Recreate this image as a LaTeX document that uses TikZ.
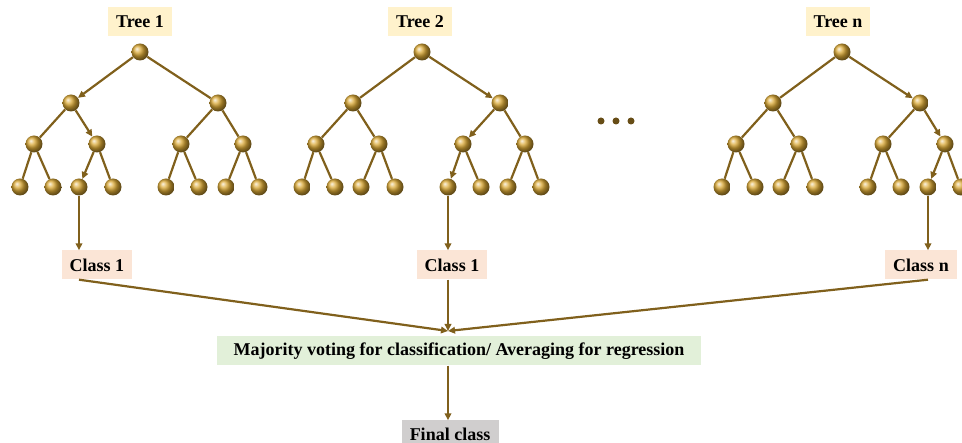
\documentclass[tikz,border=0pt]{standalone}
\usepackage{fontspec}
\setmainfont{Liberation Serif}
\usetikzlibrary{arrows.meta}

\definecolor{edgebrown}{RGB}{128,96,28}
\definecolor{ballgold}{RGB}{218,168,52}
\definecolor{treebg}{RGB}{255,242,204}
\definecolor{classbg}{RGB}{251,229,214}
\definecolor{votebg}{RGB}{226,240,217}
\definecolor{finalbg}{RGB}{208,206,206}

\tikzset{
  ball/.style={circle, inner sep=0pt, minimum size=17pt, shading=ball, ball color=ballgold},
  edge/.style={draw=edgebrown, line width=2.2pt},
  arr/.style={edge, -{Triangle[length=7pt,width=6.5pt]}},
  lbl/.style={font=\bfseries\fontsize{18}{21}\selectfont, text=black, inner xsep=8pt, minimum height=29pt},
}

\begin{document}
\begin{tikzpicture}[x=1pt, y=-1pt]
    \useasboundingbox (0,0) rectangle (962,443);
    % Trees: name / shift / nodes on the voting path
    \foreach \t/\dx/\a/\b/\c in {1/0/2/5/10, 2/282/3/6/12, n/702/3/7/14} {
        \foreach \i/\x/\y in {1/140/52, 2/71/103, 3/218/103,
            4/34/144, 5/97/144, 6/181/144, 7/243/144,
            8/20/187, 9/53/187, 10/79/187, 11/113/187,
            12/166/187, 13/199/187, 14/226/187, 15/259/187}
            \node[ball] (T\t-\i) at (\x+\dx,\y) {};
        \foreach \i in {2,...,15} {
            \pgfmathtruncatemacro\p{\i/2}
            \pgfmathtruncatemacro\isarr{(\i==\a)||(\i==\b)||(\i==\c)}
            \ifnum\isarr=1
                \draw[arr] (T\t-\p) -- (T\t-\i);
            \else
                \draw[edge] (T\t-\p) -- (T\t-\i);
            \fi
        }
    }
    % Tree titles
    \node[lbl, fill=treebg] (t1) at (140,22) {Tree 1};
    \node[lbl, fill=treebg] (t2) at (420,22) {Tree 2};
    \node[lbl, fill=treebg] (tn) at (838,22) {Tree n};
    % dots between trees
    \foreach \x in {601,616,631}
        \fill[edgebrown!80!black] (\x,121) circle (3.5);
    % Class of each tree
    \node[lbl, fill=classbg] (c1) at (97,265) {Class 1};
    \node[lbl, fill=classbg] (c2) at (452,265) {Class 1};
    \node[lbl, fill=classbg] (cn) at (921,265) {Class n};
    \draw[arr] (T1-10) -- (T1-10 |- c1.north);
    \draw[arr] (T2-12) -- (T2-12 |- c2.north);
    \draw[arr] (Tn-14) -- (Tn-14 |- cn.north);
    % Voting
    \node[lbl, fill=votebg, minimum width=484pt] (vote) at (459,351)
        {Majority voting for classification/ Averaging for regression};
    \node[lbl, fill=finalbg, minimum width=97pt, minimum height=27pt] (final) at (450,434) {Final class};
    \coordinate (m) at (448,331);
    \draw[arr] (c1.south -| T1-10) -- (m);
    \draw[arr] (c2.south -| T2-12) -- (m);
    \draw[arr] (cn.south -| Tn-14) -- (m);
    \draw[arr] (vote.south -| m) -- (final.north -| m);
\end{tikzpicture}
\end{document}
